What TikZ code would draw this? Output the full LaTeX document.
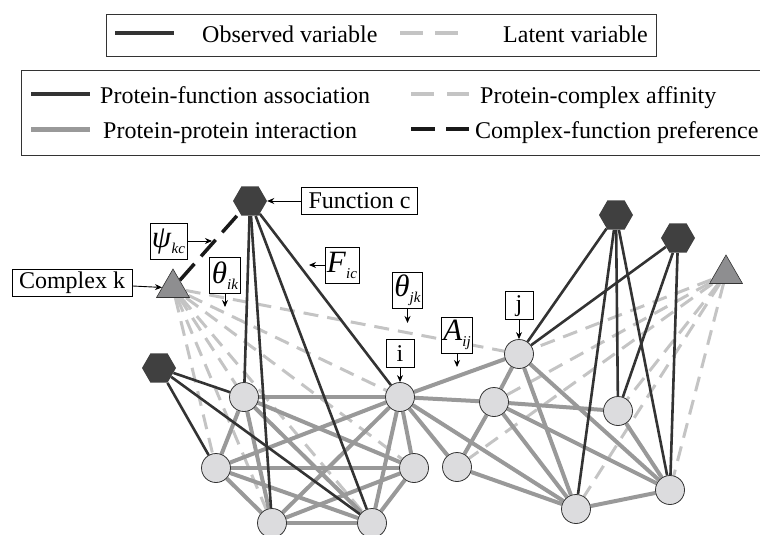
\documentclass[tikz,border=0pt]{standalone}
\usepackage{fontspec}
\setmainfont{Liberation Serif}
\usepackage{xcolor}
\usetikzlibrary{arrows, arrows.meta, positioning, shapes.geometric}

\definecolor{darkedge}{HTML}{333333}
\definecolor{ppiedge}{HTML}{999999}
\definecolor{latentedge}{HTML}{C4C4C4}
\definecolor{protfill}{HTML}{DCDCDE}
\definecolor{funcfill}{HTML}{404040}
\definecolor{cplxfill}{HTML}{8E8E90}

\pgfdeclarelayer{edges}
\pgfsetlayers{edges,main}

\newcommand{\sublab}[2]{\textit{#1}\raisebox{-6pt}{\fontsize{15}{15}\selectfont\textit{#2}}}

\tikzset{
    x=1pt, y=-1pt, % pixel-like coordinates, y grows downwards
    >={Stealth[length=7pt,width=6pt]}, % small filled arrow heads
    protnode/.style={circle, draw=darkedge, line width=0.8pt, fill=protfill, minimum size=29pt, inner sep=0pt},
    funcnode/.style={regular polygon, regular polygon sides=6, fill=funcfill, minimum size=34pt, inner sep=0pt},
    cplxnode/.style={regular polygon, regular polygon sides=3, draw=darkedge, line width=0.6pt, fill=cplxfill, minimum size=38pt, inner sep=0pt},
    assocline/.style={draw=darkedge, line width=2.6pt},
    ppiline/.style={draw=ppiedge, line width=4pt},
    affline/.style={draw=latentedge, line width=3pt, dash pattern=on 15pt off 9pt},
    prefline/.style={draw=black!90, line width=3.5pt, dash pattern=on 22pt off 10pt},
    tagbox/.style={draw, fill=white, line width=0.8pt, font=\fontsize{24}{26}\selectfont},
    wordtag/.style={tagbox, inner xsep=7pt, inner ysep=2pt, minimum height=27pt},
    lettertag/.style={tagbox, inner sep=0pt, minimum size=28pt},
    mathtag/.style={tagbox, inner xsep=2pt, inner ysep=0pt, minimum height=36pt, minimum width=30pt, font=\fontsize{31}{34}\selectfont},
    legtext/.style={anchor=base west, inner sep=0pt, font=\fontsize{24}{26}\selectfont},
}
\tikzstyle{arrow} = [line width=0.9pt, ->]

\begin{document}
\begin{tikzpicture}
    \useasboundingbox (0,0) rectangle (760,535);

    % legend
    \draw[line width=0.8pt, black!80] (106,14) rectangle (656,56);
    \draw[assocline, line width=3.2pt] (115,33) -- (174,33);
    \node[legtext] (lobs) at (202,43) {Observed variable};
    \draw[affline, line width=3.5pt, dash pattern=on 23pt off 12pt] (400,33) -- (458,33);
    \node[legtext] (llat) at (503,43) {Latent variable};

    \draw[line width=0.8pt, black!80] (21,70) rectangle (790,155);
    \draw[assocline, line width=3.2pt] (31,94) -- (90,94);
    \node[legtext] (lpfa) at (100,103) {Protein-function association};
    \draw[ppiline, line width=5pt] (31,129) -- (90,129);
    \node[legtext] (lppi) at (103,138) {Protein-protein interaction};
    \draw[affline, line width=3.5pt, dash pattern=on 23pt off 13pt] (411,94) -- (469,94);
    \node[legtext] (lpca) at (480,103) {Protein-complex affinity};
    \draw[prefline, line width=4pt, dash pattern=on 24pt off 11pt] (411,129) -- (469,129);
    \node[legtext] (lcfp) at (475,138) {Complex-function preference};

    % functions and complexes
    \node[funcnode] (fc) at (250,201) {};
    \node[funcnode] (fl) at (159,368) {};
    \node[funcnode] (fa) at (616,215) {};
    \node[funcnode] (fb) at (678,238) {};
    \node[cplxnode] (ck) at (173,288) {};
    \node[cplxnode] (cr) at (726,274) {};

    % proteins
    \node[protnode] (p1) at (244,397) {};
    \node[protnode] (p2) at (216,468) {};
    \node[protnode] (p3) at (272,523) {};
    \node[protnode] (p4) at (372,523) {};
    \node[protnode] (p5) at (414,468) {};
    \node[protnode] (pi) at (400,397) {};
    \node[protnode] (pj) at (519,354) {};
    \node[protnode] (q1) at (494,402) {};
    \node[protnode] (q2) at (457,467) {};
    \node[protnode] (q3) at (576,509) {};
    \node[protnode] (q4) at (618,411) {};
    \node[protnode] (q5) at (670,490) {};

    \begin{pgfonlayer}{edges}
        % Affinita
        \path[affline]
        (ck) edge (p1) edge (p2) edge (p3) edge (p4) edge (p5) edge (pi) edge (pj)
        (cr) edge (pj) edge (q1) edge (q2) edge (q3) edge (q4) edge (q5);

        % Interazioni
        \foreach \a/\b in {p1/p2, p1/p3, p1/p4, p1/p5, p1/pi, p2/p3, p2/p4, p2/p5, p2/pi,
                p3/p4, p3/p5, p3/pi, p4/p5, p4/pi, p5/pi,
                pi/pj, pi/q1, pi/q2, pi/q3, pj/q1, pj/q3, pj/q5,
                q1/q2, q1/q3, q1/q4, q1/q5, q2/q3, q3/q5, q4/q5}
            \draw[ppiline] (\a) -- (\b);

        % Associazioni
        \path[assocline]
        (fc) edge (p1) edge (p3) edge (p4) edge (pi)
        (fl) edge (p1) edge (p2) edge (p4)
        (fa) edge (pj) edge (q3) edge (q4) edge (q5)
        (fb) edge (pj) edge (q4) edge (q5);

        \path[prefline] (ck) edge (fc);
    \end{pgfonlayer}

    % tags
    \node[wordtag] (fclab) [right=34pt of fc] {Function c};
    \node[wordtag] (cklab) at (72,283) {Complex k};
    \node[lettertag] (ilab) [above=14pt of pi] {i};
    \node[lettertag] (jlab) [above=19pt of pj] {j};
    \node[mathtag] (psilab) at (168.5,241) {\sublab{ψ}{kc}};
    \node[mathtag] (thiklab) at (225,275.5) {\sublab{θ}{ik}};
    \node[mathtag] (ficlab) at (342,265) {\sublab{F}{ic}};
    \node[mathtag] (thjklab) at (407.5,290.5) {\sublab{θ}{jk}};
    \node[mathtag] (aijlab) at (457,335) {\sublab{A}{ij}};

    \coordinate (psitip) at (212,241);
    \coordinate (thiktip) at (225,307);
    \coordinate (fictip) at (309,265);
    \coordinate (thjktip) at (407.5,323);
    \coordinate (aijtip) at (457,367);

    \draw[arrow] (fclab) -- (fc);
    \draw[arrow] (cklab) -- (ck);
    \draw[arrow] (ilab) -- (pi);
    \draw[arrow] (jlab) -- (pj);
    \draw[arrow] (psilab) -- (psitip);
    \draw[arrow] (thiklab) -- (thiktip);
    \draw[arrow] (ficlab) -- (fictip);
    \draw[arrow] (thjklab) -- (thjktip);
    \draw[arrow] (aijlab) -- (aijtip);
\end{tikzpicture}
\end{document}
